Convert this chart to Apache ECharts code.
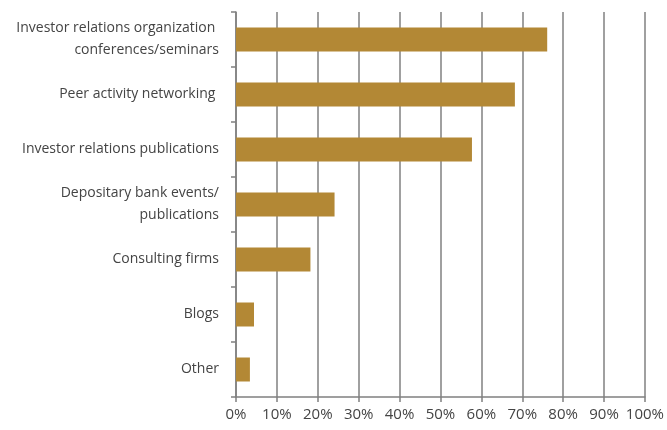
<!DOCTYPE html>
<html>
<head>
<meta charset="utf-8">
<script src="https://cdn.jsdelivr.net/npm/echarts@6/dist/echarts.min.js"></script>
<style>html,body{margin:0;padding:0;background:#fff}#c{width:667px;height:430px}</style>
</head>
<body>
<div id="c"></div>
<script>
const categories = [
  "Investor relations organization \nconferences/seminars",
  "Peer activity networking ",
  "Investor relations publications",
  "Depositary bank events/\npublications",
  "Consulting firms",
  "Blogs",
  "Other"
];
const values = [76.1, 68.2, 57.7, 24.1, 18.2, 4.4, 3.4];
const xTicks = { min: 0, max: 100, interval: 10 };

const chart = echarts.init(document.getElementById('c'), null, { renderer: 'canvas' });
chart.setOption({
  animation: false,
  backgroundColor: '#fff',
  grid: { left: 236, right: 21, top: 12, bottom: 33, containLabel: false },
  xAxis: {
    type: 'value', min: xTicks.min, max: xTicks.max, interval: xTicks.interval,
    axisLine: { show: true, lineStyle: { color: '#808080', width: 1.5 } },
    axisTick: { show: true, length: 5, lineStyle: { color: '#808080', width: 1.5 } },
    splitLine: { show: true, lineStyle: { color: '#808080', width: 1.5 } },
    axisLabel: { formatter: '{value}%', color: '#444', fontFamily: 'Open Sans', fontSize: 15, margin: 10 }
  },
  yAxis: {
    type: 'category', data: categories, inverse: true,
    axisLine: { show: true, lineStyle: { color: '#808080', width: 1.5 } },
    axisTick: { show: true, length: 5, alignWithLabel: false, lineStyle: { color: '#808080', width: 1.5 } },
    axisLabel: { color: '#444', fontFamily: 'Open Sans', fontSize: 14, lineHeight: 22, margin: 17, align: 'right' }
  },
  series: [{
    type: 'bar', data: values, barWidth: 24,
    itemStyle: { color: '#B38835' }
  }]
});
</script>
</body>
</html>
